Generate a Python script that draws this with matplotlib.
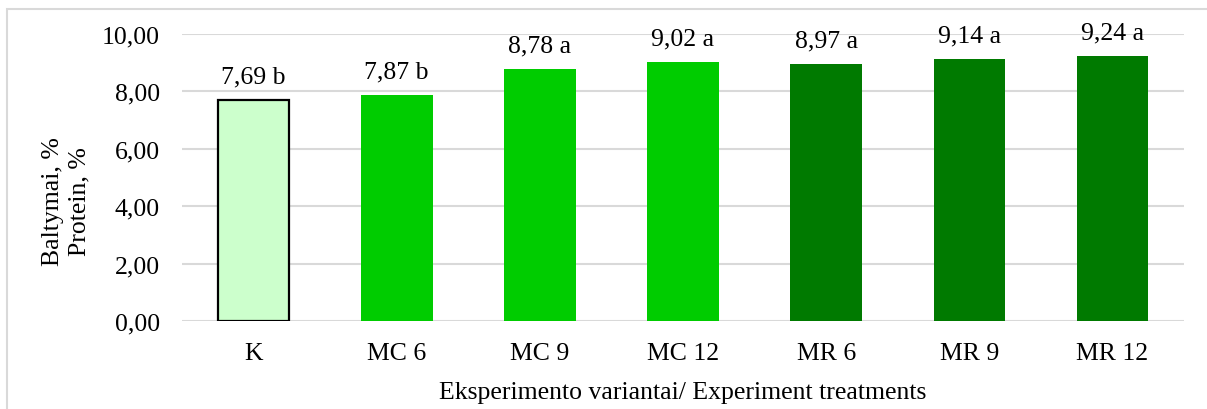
import matplotlib.pyplot as plt
from matplotlib.patches import Rectangle

# Data
categories = ['K', 'MC 6', 'MC 9', 'MC 12', 'MR 6', 'MR 9', 'MR 12']
protein = [7.69, 7.87, 8.78, 9.02, 8.97, 9.14, 9.24]
letters = ['b', 'b', 'a', 'a', 'a', 'a', 'a']
colors = ['#CCFFCC', '#00CC00', '#00CC00', '#00CC00', '#007A00', '#007A00', '#007A00']
edges = ['black', 'none', 'none', 'none', 'none', 'none', 'none']
yticks = [0, 2, 4, 6, 8, 10]

plt.rcParams['font.family'] = ['Liberation Serif', 'DejaVu Serif']
plt.rcParams['font.size'] = 18.5

fig = plt.figure(figsize=(12.07, 4.10), dpi=100)
ax = fig.add_axes([0.1508, 0.2146, 0.8302, 0.70])

x = range(len(categories))
bars = ax.bar(x, protein, width=0.5, color=colors, edgecolor=edges, linewidth=1.6, zorder=3)

for xi, v, l in zip(x, protein, letters):
    ax.annotate(f"{v:.2f}".replace('.', ',') + ' ' + l, (xi, v),
                xytext=(0, 9), textcoords='offset points', ha='center', va='bottom')

ax.set_xlim(-0.5, len(categories) - 0.5)
ax.set_ylim(0, 10)
ax.set_yticks(yticks)
ax.set_yticklabels([f"{t:.2f}".replace('.', ',') for t in yticks])
ax.set_xticks(list(x))
ax.set_xticklabels(categories)
ax.tick_params(length=0, pad=15)
ax.tick_params(axis='y', pad=16)
ax.yaxis.grid(True, color='#D9D9D9', linewidth=1.5, zorder=0)
for s in ax.spines.values():
    s.set_visible(False)

ax.set_ylabel('Baltymai, %\nProtein, %', linespacing=1.3, labelpad=8)
ax.yaxis.label.set_y(0.42)
ax.set_xlabel('Eksperimento variantai/ Experiment treatments', labelpad=12)

fig.patches.append(Rectangle((0.006, -0.05), 1.1, 1.025, transform=fig.transFigure,
                             fill=False, edgecolor='#D9D9D9', linewidth=1.5))

fig.savefig('out.png', dpi=100)
